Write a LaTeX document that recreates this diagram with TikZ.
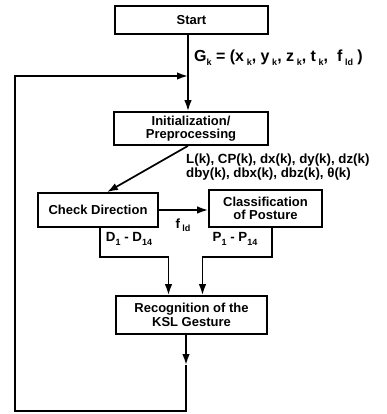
\documentclass[tikz,border=0pt]{standalone}
\usepackage{fontspec}
\setmainfont{Liberation Sans}
\usetikzlibrary{arrows.meta}

\newcommand{\lowsub}[1]{\raisebox{-0.5ex}{\fontsize{9}{9}\selectfont #1}}

\begin{document}
\begin{tikzpicture}[x=1pt,y=-1pt]
		\tikzset{block/.style={draw, line width=1.7pt, inner sep=0pt, align=center, font=\fontsize{13}{13.5}\selectfont\bfseries}}
		\tikzset{flow/.style={line width=1.7pt, -{Latex[length=11pt,width=7.5pt]}}}
		\tikzset{lab/.style={inner sep=0pt, font=\fontsize{13.3}{11.5}\selectfont\bfseries}}
		\useasboundingbox (0,0) rectangle (386,414);
		%blocks
		\node[block, minimum width=153pt, minimum height=28pt] (start) at (191.5,20) {Start};
		\node[block, minimum width=154pt, minimum height=33pt] (init) at (191,128.5) {Initialization/\\Preprocessing};
		\node[block, minimum width=120pt, minimum height=34pt] (check) at (98,210) {Check Direction};
		\node[block, minimum width=113pt, minimum height=37pt] (class) at (265.5,208.5) {Classification\\of Posture};
		\node[block, minimum width=151pt, minimum height=38pt] (recog) at (191.5,315) {Recognition of the\\KSL Gesture};
		%bends
		\coordinate (join) at (188,76);
		\coordinate (dbend) at (100,257);
		\coordinate (pbend) at (272,257);
		\coordinate (loopmid) at (186,365);
		\coordinate (loopbot) at (186,411);
		\coordinate (loopleft) at (15,411);
		%labels
		\node[lab, anchor=west, font=\fontsize{16}{16}\selectfont\bfseries] (gk) at (194,58) {G\lowsub{k} = (x\,\lowsub{k}, y\,\lowsub{k}, z\,\lowsub{k}, t\,\lowsub{k}, \ f\,\lowsub{ld}\ )};
		\node[lab, anchor=west, align=left] (feat) at (186,167) {L(k), CP(k), dx(k), dy(k), dz(k)\\dby(k), dbx(k), dbz(k), θ(k)};
		\node[lab] (fld) at (183,225) {f\,\lowsub{ld}};
		\node[lab] (dlab) at (129,239) {D\lowsub{1} - D\lowsub{14}};
		\node[lab] (plab) at (235,239) {P\lowsub{1} - P\lowsub{14}};
		%edges
		\draw[line width=1.7pt] (start.south -| join) -- (join);
		\draw[flow] (join) -- (init.north -| join);
		\draw[flow] (init.south -| join) -- ([xshift=9pt]check.north);
		\draw[flow] (check.east) -- (check.east -| class.west);
		\draw[flow] (check.south -| dbend) -- (dbend) -| ([xshift=-23pt]recog.north);
		\draw[flow] (class.south -| pbend) -- (pbend) -| ([xshift=11pt]recog.north);
		\draw[flow] (recog.south -| loopmid) -- (loopmid);
		\draw[flow] (loopmid) -- (loopbot) -- (loopleft) |- (join);
\end{tikzpicture}
\end{document}
